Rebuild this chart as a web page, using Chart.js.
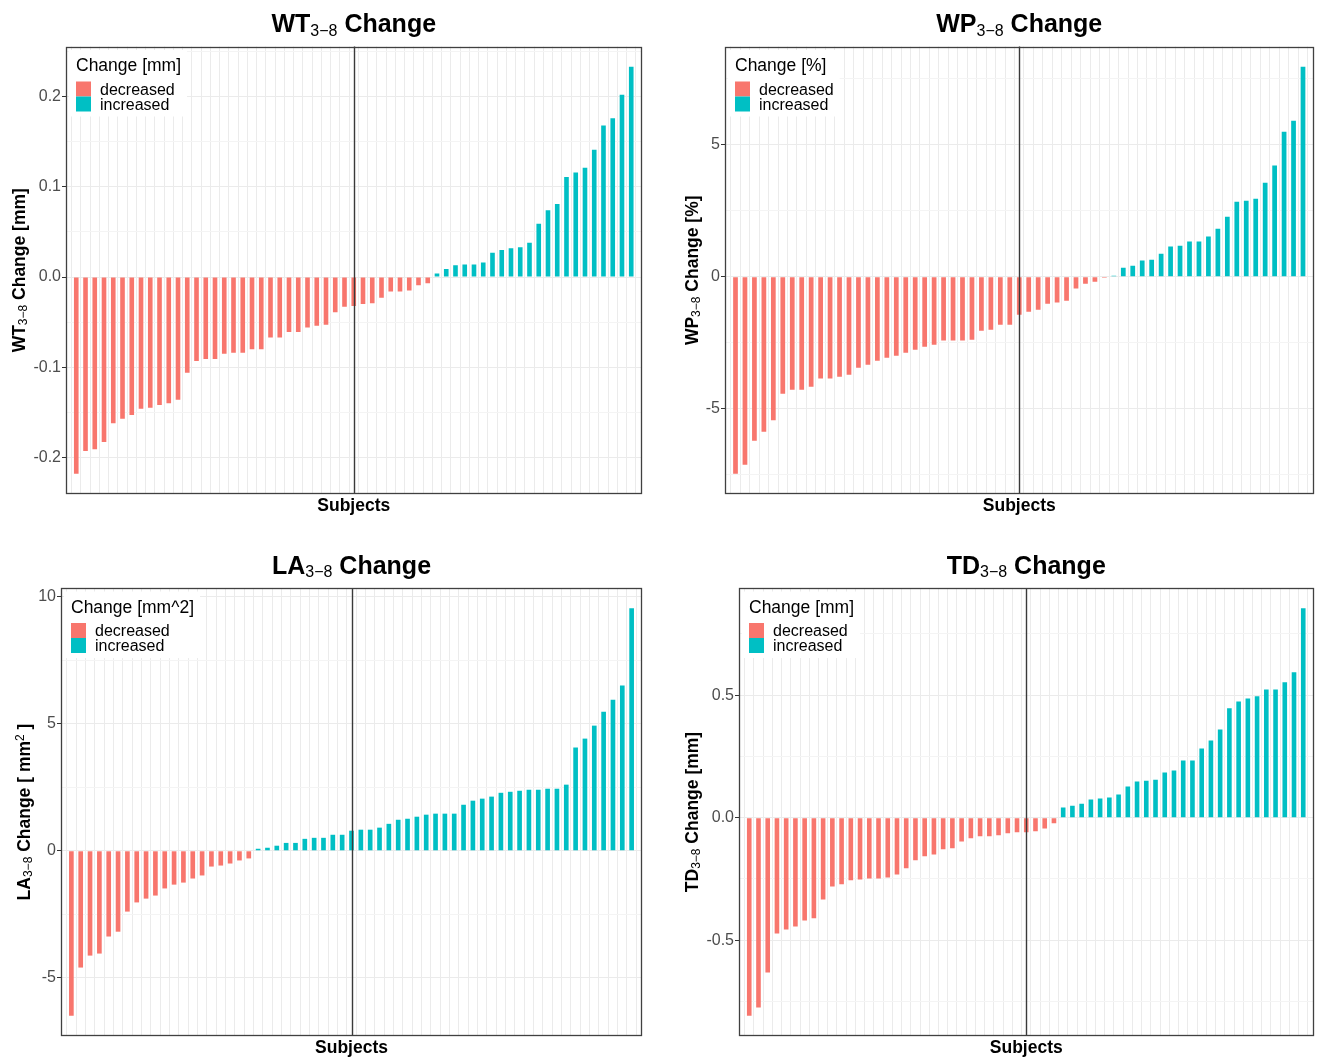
<!DOCTYPE html>
<html>
<head>
<meta charset="utf-8">
<title>Change per subject</title>
<script src="https://cdn.jsdelivr.net/npm/chart.js@4.4.1/dist/chart.umd.min.js"></script>
<style>
  html, body { margin: 0; padding: 0; background: #fff; }
  body { width: 1317px; height: 1058px; position: relative; overflow: hidden; }
  canvas { position: absolute; }
</style>
</head>
<body>
<canvas id="wt" width="658" height="529" style="left:0;top:0"></canvas>
<canvas id="wp" width="659" height="529" style="left:658px;top:0"></canvas>
<canvas id="la" width="658" height="529" style="left:0;top:529px"></canvas>
<canvas id="td" width="659" height="529" style="left:658px;top:529px"></canvas>
<script>
// values per subject, sorted ascending
const wtChange = [
    -0.218, -0.193, -0.191, -0.183, -0.162, -0.157, -0.153, -0.146, -0.145, -0.142,
    -0.140, -0.136, -0.106, -0.093, -0.091, -0.091, -0.085, -0.084, -0.084, -0.080,
    -0.080, -0.067, -0.067, -0.061, -0.061, -0.056, -0.054, -0.053, -0.039, -0.033,
    -0.032, -0.030, -0.029, -0.023, -0.016, -0.016, -0.015, -0.009, -0.007, 0.004,
    0.009, 0.013, 0.014, 0.014, 0.016, 0.027, 0.030, 0.032, 0.033, 0.038,
    0.059, 0.074, 0.081, 0.111, 0.116, 0.121, 0.141, 0.168, 0.176, 0.202,
    0.233
];
const wpChange = [
    -7.46, -7.12, -6.21, -5.87, -5.44, -4.43, -4.28, -4.28, -4.17, -3.86,
    -3.86, -3.79, -3.71, -3.45, -3.33, -3.18, -3.07, -2.99, -2.88, -2.77,
    -2.65, -2.58, -2.42, -2.42, -2.42, -2.39, -2.05, -2.01, -1.82, -1.82,
    -1.44, -1.33, -1.25, -1.02, -0.98, -0.91, -0.45, -0.27, -0.19, -0.04,
    0.04, 0.34, 0.42, 0.61, 0.64, 0.87, 1.14, 1.17, 1.33, 1.33,
    1.52, 1.82, 2.27, 2.84, 2.88, 2.95, 3.56, 4.21, 5.49, 5.91,
    7.95
];
const laChange = [
    -6.48, -4.59, -4.12, -4.04, -3.37, -3.18, -2.39, -2.03, -1.88, -1.76,
    -1.48, -1.33, -1.25, -1.09, -0.97, -0.62, -0.58, -0.50, -0.38, -0.30,
    0.08, 0.12, 0.20, 0.31, 0.31, 0.47, 0.51, 0.51, 0.63, 0.63,
    0.79, 0.83, 0.83, 0.91, 1.06, 1.22, 1.26, 1.34, 1.42, 1.46,
    1.46, 1.46, 1.81, 1.97, 2.05, 2.13, 2.28, 2.32, 2.36, 2.40,
    2.40, 2.44, 2.44, 2.60, 4.06, 4.41, 4.92, 5.47, 5.94, 6.50,
    9.53
];
const tdChange = [
    -0.808, -0.775, -0.632, -0.473, -0.456, -0.444, -0.420, -0.411, -0.334, -0.281,
    -0.272, -0.256, -0.252, -0.248, -0.248, -0.244, -0.232, -0.207, -0.174, -0.158,
    -0.150, -0.129, -0.125, -0.097, -0.084, -0.076, -0.076, -0.072, -0.064, -0.060,
    -0.060, -0.056, -0.044, -0.023, 0.041, 0.049, 0.057, 0.074, 0.078, 0.082,
    0.094, 0.127, 0.147, 0.151, 0.155, 0.184, 0.192, 0.233, 0.233, 0.282,
    0.315, 0.360, 0.446, 0.474, 0.486, 0.495, 0.523, 0.523, 0.552, 0.593,
    0.854
];

// major y ticks and their labels
const wtTicks = [-0.2, -0.1, 0, 0.1, 0.2];
const wtTickLabels = ['-0.2', '-0.1', '0.0', '0.1', '0.2'];
const wpTicks = [-5, 0, 5];
const wpTickLabels = ['-5', '0', '5'];
const laTicks = [-5, 0, 5, 10];
const laTickLabels = ['-5', '0', '5', '10'];
const tdTicks = [-0.5, 0, 0.5];
const tdTickLabels = ['-0.5', '0.0', '0.5'];

const legendLabels = ['decreased', 'increased'];
const legendColors = ['#F8766D', '#00BFC4'];

const FONT = '"Liberation Sans", Arial, Helvetica, sans-serif';
const TICK_SIZE = 16;
Chart.defaults.font.family = FONT;

/**
 * Draws text made of parts (bold, sub- and superscripts) centred on x.
 */
function drawRich(ctx, parts, x, y) {
    const fontOf = (p) => `${p.bold ? 'bold ' : ''}${p.size}px ${FONT}`;
    let total = 0;
    const widths = parts.map((p) => {
        ctx.font = fontOf(p);
        const w = ctx.measureText(p.text).width;
        total += w;
        return w;
    });
    let cx = x - total / 2;
    ctx.textAlign = 'left';
    ctx.textBaseline = 'alphabetic';
    parts.forEach((p, i) => {
        ctx.font = fontOf(p);
        ctx.fillText(p.text, cx, y + (p.dy || 0));
        cx += widths[i];
    });
}

const panelDecor = {
    id: 'panelDecor',
    afterDatasetsDraw(chart, args, opts) {
        const { ctx, chartArea: a } = chart;
        const xm = Math.round(chart.scales.x.getPixelForValue(opts.medianIndex)) + 0.5;
        ctx.save();
        ctx.strokeStyle = '#3a3a3a';
        ctx.lineWidth = 1.4;
        ctx.beginPath();
        ctx.moveTo(xm, a.top);
        ctx.lineTo(xm, a.bottom);
        ctx.stroke();
        ctx.restore();
    },
    afterDraw(chart, args, opts) {
        const { ctx, chartArea: a } = chart;
        ctx.save();

        // panel border
        ctx.strokeStyle = '#404040';
        ctx.lineWidth = 1.3;
        const l = Math.round(a.left) + 0.5, t = Math.round(a.top) + 0.5;
        const r = Math.round(a.right) - 0.5, b = Math.round(a.bottom) - 0.5;
        ctx.strokeRect(l, t, r - l, b - t);

        // legend inside the panel, top left
        const datasets = chart.data.datasets;
        ctx.font = `17.5px ${FONT}`;
        const titleW = ctx.measureText(opts.legendTitle).width;
        ctx.font = `16px ${FONT}`;
        const labelW = Math.max(...datasets.map((d) => ctx.measureText(d.label).width));
        const boxRight = Math.max(a.left + 10 + titleW, a.left + 34 + labelW) + 6;
        ctx.fillStyle = '#fff';
        ctx.fillRect(a.left + 3, a.top + 3.5, boxRight - a.left - 3, 66.5);
        ctx.fillStyle = '#000';
        ctx.textAlign = 'left';
        ctx.textBaseline = 'alphabetic';
        ctx.font = `17.5px ${FONT}`;
        ctx.fillText(opts.legendTitle, a.left + 10, a.top + 24.5);
        ctx.font = `16px ${FONT}`;
        datasets.forEach((d, i) => {
            const ky = a.top + 35 + 15 * i;
            ctx.fillStyle = d.backgroundColor;
            ctx.fillRect(a.left + 10, ky, 15, 15);
            ctx.fillStyle = '#000';
            ctx.fillText(d.label, a.left + 34, ky + 7.5 + 5.7);
        });

        // main title
        ctx.fillStyle = '#000';
        drawRich(ctx, opts.title, (a.left + a.right) / 2, a.top - 14.2);

        // x axis title
        drawRich(ctx, [{ text: 'Subjects', bold: true, size: 17.5 }], (a.left + a.right) / 2, a.bottom + 17.3);

        // y axis title, rotated
        ctx.font = `${TICK_SIZE}px ${FONT}`;
        const tickW = Math.max(...opts.tickLabels.map((s) => ctx.measureText(s).width));
        const yx = a.left - 5 - tickW - 8;
        ctx.translate(yx, (a.top + a.bottom) / 2);
        ctx.rotate(-Math.PI / 2);
        drawRich(ctx, opts.yTitle, 0, 0);

        ctx.restore();
    }
};

/**
 * Major ticks plus a minor tick halfway between them, within [min, max].
 */
function ticksWithMinor(majors, min, max) {
    const half = (majors[1] - majors[0]) / 2;
    const list = [{ value: majors[0] - half, isMajor: false }];
    majors.forEach((v) => {
        list.push({ value: v, isMajor: true });
        list.push({ value: v + half, isMajor: false });
    });
    return list.filter((t) => t.value >= min && t.value <= max);
}

function sub(text, dy, size) {
    return { text, size, dy };
}

/**
 * Creates one panel.
 */
function createPanel(cfg) {
    const values = cfg.values;
    const dMin = Math.min(...values), dMax = Math.max(...values);
    const pad = (dMax - dMin) * 0.05;
    const yMin = dMin - pad, yMax = dMax + pad;
    const [rl, rt, rw, rh] = cfg.rect;
    const [al, at, ar, ab] = cfg.area;
    const subjects = values.map((_, i) => i);

    return new Chart(document.getElementById(cfg.id), {
        type: 'bar',
        data: {
            labels: subjects,
            datasets: [{
                label: legendLabels[0],
                data: values.map((v) => (v < 0 ? v : null)),
                backgroundColor: legendColors[0],
                grouped: false,
                categoryPercentage: 1,
                barPercentage: 0.5
            }, {
                label: legendLabels[1],
                data: values.map((v) => (v >= 0 ? v : null)),
                backgroundColor: legendColors[1],
                grouped: false,
                categoryPercentage: 1,
                barPercentage: 0.5
            }]
        },
        options: {
            responsive: false,
            animation: false,
            layout: {
                padding: { left: 0, top: at - rt, right: rl + rw - ar, bottom: rt + rh - ab }
            },
            plugins: {
                legend: { display: false },
                tooltip: { enabled: false },
                panelDecor: {
                    medianIndex: Math.floor(values.length / 2),
                    legendTitle: cfg.legendTitle,
                    title: cfg.title,
                    yTitle: cfg.yTitle,
                    tickLabels: cfg.tickLabels
                }
            },
            scales: {
                x: {
                    type: 'linear',
                    min: -0.6,
                    max: values.length - 0.4,
                    afterBuildTicks: (scale) => {
                        scale.ticks = subjects.map((i) => ({ value: i }));
                    },
                    afterFit: (scale) => { scale.height = 0; },
                    ticks: { display: false },
                    grid: { color: '#EBEBEB', lineWidth: 1, drawTicks: false },
                    border: { display: false }
                },
                y: {
                    min: yMin,
                    max: yMax,
                    afterBuildTicks: (scale) => {
                        scale.ticks = ticksWithMinor(cfg.ticks, yMin, yMax);
                    },
                    afterFit: (scale) => { scale.width = al - rl; },
                    ticks: {
                        autoSkip: false,
                        includeBounds: false,
                        padding: 1,
                        color: '#4D4D4D',
                        font: { size: TICK_SIZE },
                        callback: (value) => {
                            const i = cfg.ticks.indexOf(value);
                            return i >= 0 ? cfg.tickLabels[i] : '';
                        }
                    },
                    grid: {
                        tickLength: 4,
                        lineWidth: 1,
                        color: (c) => (c.tick && c.tick.isMajor ? '#EBEBEB' : '#F4F4F4'),
                        tickColor: (c) => (c.tick && c.tick.isMajor ? '#333333' : 'rgba(0,0,0,0)')
                    },
                    border: { display: false }
                }
            }
        },
        plugins: [panelDecor]
    });
}

const T = 25, S = 16, Y = 17.5, YS = 12;

createPanel({
    id: 'wt', values: wtChange, ticks: wtTicks, tickLabels: wtTickLabels,
    rect: [0, 0, 658, 529], area: [66, 46.5, 641.5, 494],
    legendTitle: 'Change [mm]',
    title: [{ text: 'WT', bold: true, size: T }, sub('3\u22128', 3.4, S), { text: ' Change', bold: true, size: T }],
    yTitle: [{ text: 'WT', bold: true, size: Y }, sub('3\u22128', 2, YS), { text: ' Change [mm]', bold: true, size: Y }]
});

createPanel({
    id: 'wp', values: wpChange, ticks: wpTicks, tickLabels: wpTickLabels,
    rect: [658, 0, 659, 529], area: [725, 46.5, 1313.5, 494],
    legendTitle: 'Change [%]',
    title: [{ text: 'WP', bold: true, size: T }, sub('3\u22128', 3.4, S), { text: ' Change', bold: true, size: T }],
    yTitle: [{ text: 'WP', bold: true, size: Y }, sub('3\u22128', 2, YS), { text: ' Change [%]', bold: true, size: Y }]
});

createPanel({
    id: 'la', values: laChange, ticks: laTicks, tickLabels: laTickLabels,
    rect: [0, 529, 658, 529], area: [61, 588, 642, 1036],
    legendTitle: 'Change [mm^2]',
    title: [{ text: 'LA', bold: true, size: T }, sub('3\u22128', 3.4, S), { text: ' Change', bold: true, size: T }],
    yTitle: [
        { text: 'LA', bold: true, size: Y }, sub('3\u22128', 2, YS),
        { text: ' Change [ mm', bold: true, size: Y }, sub('2', -6.5, YS),
        { text: ' ]', bold: true, size: Y }
    ]
});

createPanel({
    id: 'td', values: tdChange, ticks: tdTicks, tickLabels: tdTickLabels,
    rect: [658, 529, 659, 529], area: [739, 588, 1313.5, 1036],
    legendTitle: 'Change [mm]',
    title: [{ text: 'TD', bold: true, size: T }, sub('3\u22128', 3.4, S), { text: ' Change', bold: true, size: T }],
    yTitle: [{ text: 'TD', bold: true, size: Y }, sub('3\u22128', 2, YS), { text: ' Change [mm]', bold: true, size: Y }]
});
</script>
</body>
</html>
